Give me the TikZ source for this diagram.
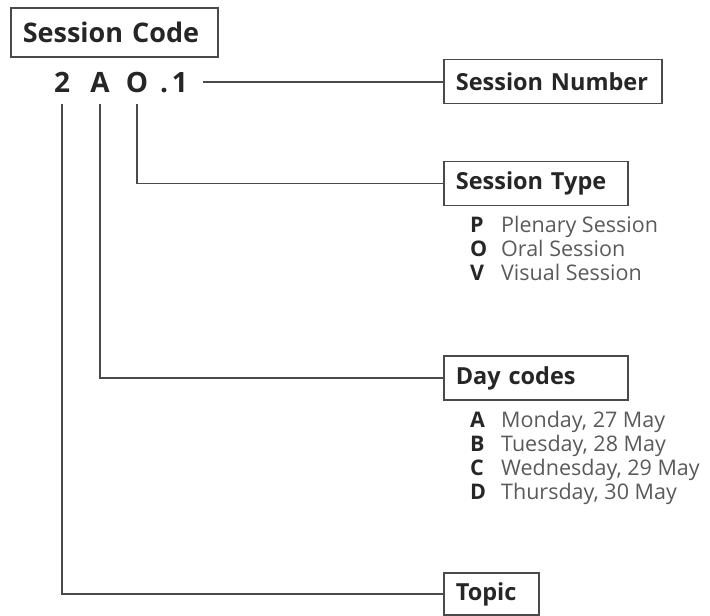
\documentclass[tikz,border=0pt]{standalone}
\usepackage{fontspec}
\setmainfont{Open Sans}
\usetikzlibrary{positioning}

\definecolor{boxgray}{HTML}{4A4A4A}
\definecolor{textgray}{HTML}{5A5A5A}
\definecolor{inkdark}{HTML}{262626}

\begin{document}
\begin{tikzpicture}[x=1pt, y=-1pt,
    label box/.style={draw=boxgray, line width=1.6pt, anchor=west, align=left,
        inner xsep=12pt, inner ysep=0pt, minimum height=44pt,
        font=\fontsize{23.5}{28}\selectfont\bfseries, text=inkdark},
    code char/.style={anchor=base, inner xsep=1pt, inner ysep=12pt,
        font=\fontsize{28}{32}\selectfont\bfseries, text=inkdark},
    key list/.style={anchor=north west, inner sep=0pt, text=textgray,
        font=\fontsize{21.5}{24}\selectfont},
    link/.style={draw=boxgray, line width=1.4pt}]
    \useasboundingbox (0,0) rectangle (710,616);

    \node[label box, text width=183pt, minimum height=49pt,
        font=\fontsize{27}{32}\selectfont\bfseries] (code) at (10,32.5) {Session Code};

    \node[code char] (two) at (62,92) {2};
    \node[code char] (ay) at (100,92) {A};
    \node[code char] (oh) at (137,92) {O};
    \node[code char] (one) at (174,92) {.\kern4pt1};

    \node[label box, text width=194pt] (number) at (443,81.5) {Session Number};
    \node[label box, text width=160pt] (type) at (443,183.5) {Session Type};
    \node[label box, text width=160pt] (days) at (443,378) {Day codes};
    \node[label box, text width=71pt, minimum height=42pt] (topic) at (443,594) {Topic};

    \node[key list] (typelist) at (470,215) {%
        \begin{tabular}{@{}p{31pt}@{}l@{}}
        \textcolor{inkdark}{\bfseries P} & Plenary Session\\
        \textcolor{inkdark}{\bfseries O} & Oral Session\\
        \textcolor{inkdark}{\bfseries V} & Visual Session
        \end{tabular}};
    \node[key list] (daylist) at (470,410) {%
        \begin{tabular}{@{}p{31pt}@{}l@{}}
        \textcolor{inkdark}{\bfseries A} & Monday, 27 May\\
        \textcolor{inkdark}{\bfseries B} & Tuesday, 28 May\\
        \textcolor{inkdark}{\bfseries C} & Wednesday, 29 May\\
        \textcolor{inkdark}{\bfseries D} & Thursday, 30 May
        \end{tabular}};

    \draw[link, shorten <=14pt] (one.east) -- (one.east -| number.west);
    \draw[link] (oh.south) |- (type.west);
    \draw[link] (ay.south) |- (days.west);
    \draw[link] (two.south) |- (topic.west);
\end{tikzpicture}
\end{document}
